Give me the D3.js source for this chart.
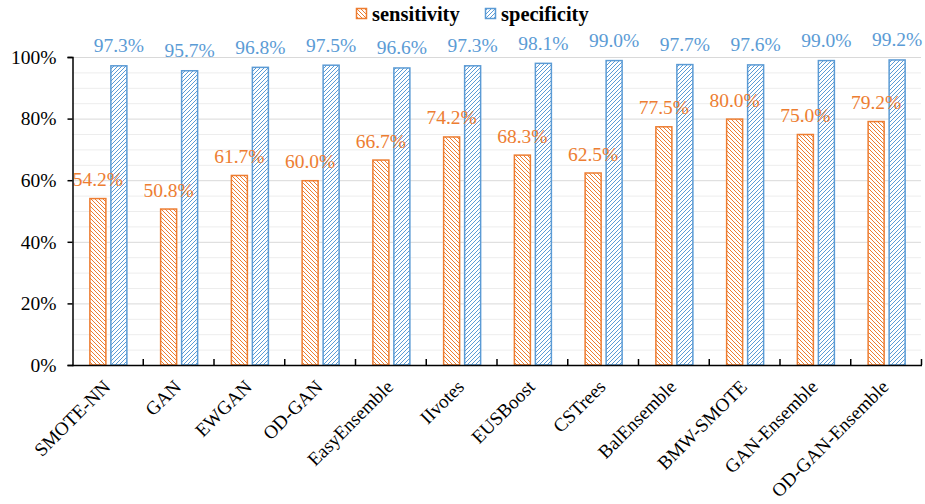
<!DOCTYPE html>
<html>
<head>
<meta charset="utf-8">
<script src="https://cdn.jsdelivr.net/npm/d3@7"></script>
<style>
  html, body { margin: 0; padding: 0; background: #fff; }
  svg { display: block; }
  text { font-family: "Liberation Serif", "Times New Roman", serif; }
</style>
</head>
<body>
<svg id="chart" width="925" height="504"></svg>
<script>
// Classifier comparison: sensitivity and specificity per method
const categories = ["SMOTE-NN", "GAN", "EWGAN", "OD-GAN", "EasyEnsemble", "IIvotes",
  "EUSBoost", "CSTrees", "BalEnsemble", "BMW-SMOTE", "GAN-Ensemble", "OD-GAN-Ensemble"];
const sensitivity = [54.2, 50.8, 61.7, 60.0, 66.7, 74.2, 68.3, 62.5, 77.5, 80.0, 75.0, 79.2];
const specificity = [97.3, 95.7, 96.8, 97.5, 96.6, 97.3, 98.1, 99.0, 97.7, 97.6, 99.0, 99.2];
const yTicks = [0, 20, 40, 60, 80, 100];
const seriesNames = ["sensitivity", "specificity"];

const ORANGE = "#ED7D31";
const BLUE = "#5B9BD5";
const SERIF = "Liberation Serif, Times New Roman, serif";

const svg = d3.select("#chart");
const margin = { left: 72, right: 4, top: 57, bottom: 139 };
const W = 925, H = 504;
const x0 = margin.left, x1 = W - margin.right;
const y0 = H - margin.bottom, y1 = margin.top;

const x = d3.scaleBand().domain(categories).range([x0, x1]).paddingInner(0).paddingOuter(0);
const y = d3.scaleLinear().domain([0, 100]).range([y0, y1]);

// hatch patterns
const defs = svg.append("defs");
function hatch(id, color, dir) {
  const p = defs.append("pattern")
    .attr("id", id).attr("patternUnits", "userSpaceOnUse")
    .attr("width", 4).attr("height", 4);
  p.append("rect").attr("width", 4).attr("height", 4).attr("fill", "#fff");
  const d = dir === "down"
    ? "M0,0 L4,4 M-1,3 L1,5 M3,-1 L5,1"
    : "M0,4 L4,0 M-1,1 L1,-1 M3,5 L5,3";
  p.append("path").attr("d", d).attr("stroke", color).attr("stroke-width", 1);
}
hatch("hatch-sens", ORANGE, "down");
hatch("hatch-spec", BLUE, "up");

// gridlines: minor every 5%, major every 20%
const minor = d3.range(5, 101, 5).filter(v => v % 20 !== 0);
svg.append("g").selectAll("line").data(minor).join("line")
  .attr("x1", x0).attr("x2", x1)
  .attr("y1", d => y(d) + 0.5).attr("y2", d => y(d) + 0.5)
  .attr("stroke", "#EDEDED").attr("stroke-width", 1);
svg.append("g").selectAll("line").data(yTicks.filter(v => v > 0)).join("line")
  .attr("x1", x0).attr("x2", x1)
  .attr("y1", d => y(d) + 0.5).attr("y2", d => y(d) + 0.5)
  .attr("stroke", "#D9D9D9").attr("stroke-width", 1);

// bars
const bw = 16, gap = 5;
const bandW = x.bandwidth();
const offSens = bandW / 2 - gap / 2 - bw + 1;
const offSpec = bandW / 2 + gap / 2 + 1;

const g = svg.append("g");
g.selectAll("rect.sens").data(categories).join("rect")
  .attr("class", "sens")
  .attr("x", d => x(d) + offSens)
  .attr("y", (d, i) => y(sensitivity[i]) + 0.5)
  .attr("width", bw)
  .attr("height", (d, i) => y0 - y(sensitivity[i]) - 0.5)
  .attr("fill", "url(#hatch-sens)")
  .attr("stroke", ORANGE).attr("stroke-width", 1.5);
g.selectAll("rect.spec").data(categories).join("rect")
  .attr("class", "spec")
  .attr("x", d => x(d) + offSpec)
  .attr("y", (d, i) => y(specificity[i]) + 0.5)
  .attr("width", bw)
  .attr("height", (d, i) => y0 - y(specificity[i]) - 0.5)
  .attr("fill", "url(#hatch-spec)")
  .attr("stroke", BLUE).attr("stroke-width", 1.5);

// value labels
const fmt = v => v.toFixed(1) + "%";
g.selectAll("text.sl").data(categories).join("text")
  .attr("x", d => x(d) + offSens + bw / 2)
  .attr("y", (d, i) => y(sensitivity[i]) - 12)
  .attr("text-anchor", "middle")
  .attr("font-family", SERIF)
  .attr("font-size", 19.5).attr("fill", ORANGE)
  .text((d, i) => fmt(sensitivity[i]));
g.selectAll("text.pl").data(categories).join("text")
  .attr("x", d => x(d) + offSpec + bw / 2)
  .attr("y", (d, i) => y(specificity[i]) - 13)
  .attr("text-anchor", "middle")
  .attr("font-family", SERIF)
  .attr("font-size", 19.5).attr("fill", BLUE)
  .text((d, i) => fmt(specificity[i]));

// y axis
const yAxis = svg.append("g").attr("transform", `translate(${x0 + 0.5},0)`)
  .call(d3.axisLeft(y).tickValues(yTicks).tickSize(5).tickPadding(11).tickFormat(d => d + "%"));
yAxis.select(".domain").attr("stroke", "#000").attr("stroke-width", 1.5);
yAxis.selectAll(".tick line").attr("stroke", "#000").attr("stroke-width", 1.5);
yAxis.selectAll(".tick text").attr("font-size", 19.5).attr("fill", "#000")
  .attr("font-family", SERIF);

// x axis with inward ticks at category boundaries
const xg = svg.append("g");
xg.append("line").attr("x1", x0).attr("x2", x1 + 1)
  .attr("y1", y0 + 0.5).attr("y2", y0 + 0.5)
  .attr("stroke", "#000").attr("stroke-width", 1.5);
xg.selectAll("line.tk").data(categories).join("line")
  .attr("class", "tk")
  .attr("x1", d => x(d) + bandW + 0.5).attr("x2", d => x(d) + bandW + 0.5)
  .attr("y1", y0).attr("y2", y0 - 6)
  .attr("stroke", "#000").attr("stroke-width", 1.5);
xg.selectAll("text").data(categories).join("text")
  .attr("transform", d => `translate(${x(d) + bandW / 2 + 4},${y0 + 23}) rotate(-45)`)
  .attr("text-anchor", "end")
  .attr("font-family", SERIF)
  .attr("font-size", 19).attr("fill", "#000")
  .text(d => d);

// legend
const legend = svg.append("g");
const legendItems = [
  { name: seriesNames[0], fill: "url(#hatch-sens)", stroke: ORANGE, x: 356 },
  { name: seriesNames[1], fill: "url(#hatch-spec)", stroke: BLUE, x: 485 }
];
legendItems.forEach(it => {
  legend.append("rect").attr("x", it.x + 0.5).attr("y", 8.5).attr("width", 10).attr("height", 10)
    .attr("fill", it.fill).attr("stroke", it.stroke).attr("stroke-width", 1.5);
  legend.append("text").attr("x", it.x + 16).attr("y", 21)
    .attr("font-family", SERIF)
    .attr("font-size", 20.5).attr("font-weight", "bold").attr("fill", "#000")
    .text(it.name);
});
</script>
</body>
</html>
